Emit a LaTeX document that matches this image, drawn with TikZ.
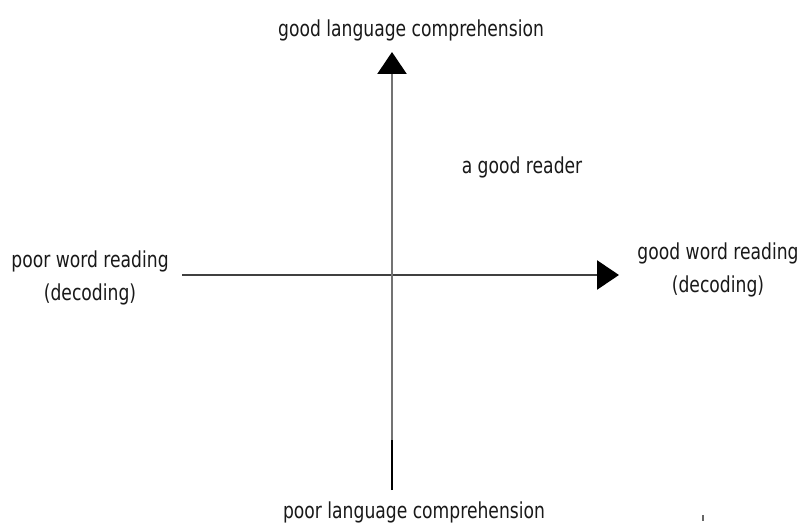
\documentclass[tikz,border=0pt]{standalone}
\usepackage{fontspec}
\setmainfont[FakeStretch=0.78]{DejaVu Sans}
\usetikzlibrary{arrows.meta}
\begin{document}
\begin{tikzpicture}[x=1pt,y=-1pt,
  lbl/.style={font=\fontsize{22}{33}\selectfont, text=black!90, inner sep=0pt, align=center},
  axisline/.style={draw=black!75, line width=2.5pt},
  tip/.style={-{Triangle[length=22pt,width=29pt,color=black]}}]
\useasboundingbox[fill=white] (0,0) rectangle (798,524);
% axis end points
\coordinate (L) at (182,275);
\coordinate (R) at (619,275);
\coordinate (T) at (392,52);
\coordinate (Bm) at (392,440);
\coordinate (B) at (392,490);
% horizontal axis: word reading
\draw[axisline, tip] (L) -- (R);
% vertical axis: language comprehension
\draw[axisline, draw=black!55, tip] (Bm) -- (T);
\draw[black, line width=1.6pt] (B) -- (Bm);
% labels (a two-line node sits on the baseline of its last line)
\node[lbl, anchor=base] (top) at (411,37) {good language comprehension};
\node[lbl, anchor=base] (bot) at (414,518) {poor language comprehension};
\node[lbl, anchor=base] (reader) at (522,173) {a good reader};
\node[lbl, anchor=base] (left) at (90,300) {poor word reading\\(decoding)};
\node[lbl, anchor=base] (right) at (718,292) {good word reading\\(decoding)};
% small stray mark near the lower right corner
\fill[black!60] (702,515) rectangle (704,521);
\end{tikzpicture}
\end{document}
